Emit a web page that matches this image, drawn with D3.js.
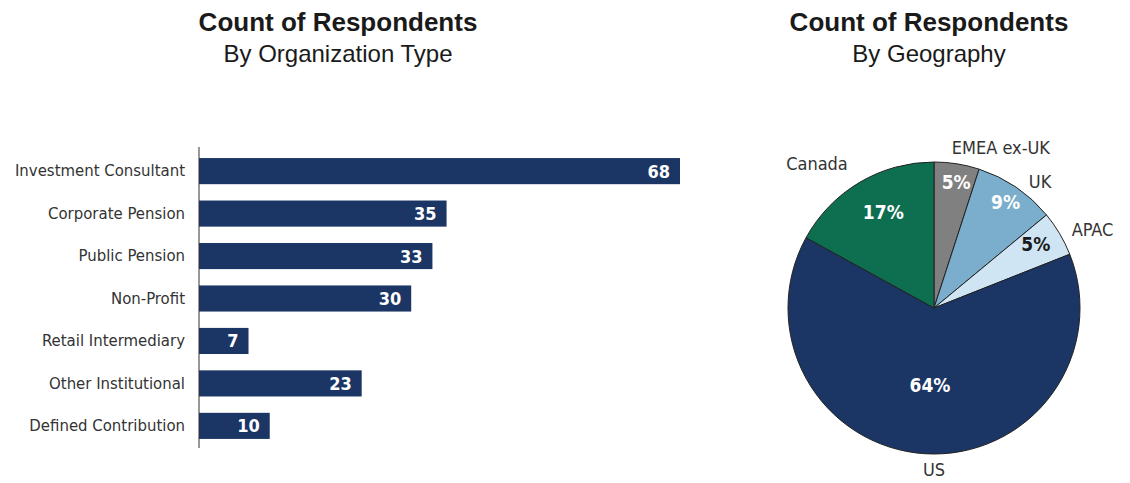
<!DOCTYPE html>
<html>
  <head>
    <meta charset="utf-8">
    <title>Count of Respondents</title>
    <script src="https://cdn.jsdelivr.net/npm/d3@7"></script>
    <style>
      body { margin: 0; background: #fff; }
      svg { display: block; }
      .title { font-family: "Liberation Sans", Arial, sans-serif; font-weight: bold; font-size: 26px; fill: #1a1a1a; }
      .subtitle { font-family: "Liberation Sans", Arial, sans-serif; font-size: 24px; fill: #1a1a1a; }
      .narrow { font-family: "Liberation Sans Narrow", "DejaVu Sans Condensed", sans-serif; }
    </style>
  </head>
  <body>
    <svg id="chart" width="1130" height="483"></svg>
    <script>
      // bar data
      var orgTypes = ["Investment Consultant", "Corporate Pension", "Public Pension", "Non-Profit",
        "Retail Intermediary", "Other Institutional", "Defined Contribution"];
      var orgCounts = [68, 35, 33, 30, 7, 23, 10];

      // pie data (clockwise from 12 o'clock)
      var regions = ["EMEA ex-UK", "UK", "APAC", "US", "Canada"];
      var regionShares = [5, 9, 5, 64, 17];

      var pieColors = ["#808080", "#7aaecc", "#cfe5f3", "#1b3564", "#0e6e50"];
      var pctColors = ["#fff", "#fff", "#1a1a1a", "#fff", "#fff"];
      // label placement: [angle in degrees, distance from centre]
      var pctPlace = [[10, 128], [34, 128], [58, 120], [183, 77], [332, 108]];
      var namePlace = [[22.6, 174], [40, 165], [63.6, 177], [180, 162], [321, 186]];

      var svg = d3.select("#chart");

      // titles
      function titles(cx, sub) {
        svg.append("text").attr("class", "title")
          .attr("x", cx).attr("y", 31).attr("text-anchor", "middle")
          .text("Count of Respondents");
        svg.append("text").attr("class", "subtitle")
          .attr("x", cx).attr("y", 62).attr("text-anchor", "middle")
          .text(sub);
      }
      titles(338, "By Organization Type");
      titles(929, "By Geography");

      // bar chart
      var x = d3.scaleLinear().domain([0, 68]).range([199, 680]);
      var y = d3.scaleBand().domain(orgTypes).range([150, 447]).paddingInner(0.385).paddingOuter(0.19);

      var bars = svg.append("g");
      bars.selectAll("rect")
        .data(orgCounts)
        .enter().append("rect")
          .attr("x", x(0))
          .attr("y", function(d, i) { return y(orgTypes[i]); })
          .attr("width", function(d) { return x(d) - x(0); })
          .attr("height", y.bandwidth())
          .style("fill", "#1b3564");
      bars.selectAll(".val")
        .data(orgCounts)
        .enter().append("text")
          .attr("class", "val narrow")
          .attr("x", function(d) { return x(d) - 10; })
          .attr("y", function(d, i) { return y(orgTypes[i]) + y.bandwidth() / 2; })
          .attr("dy", "0.36em")
          .attr("text-anchor", "end")
          .style("font-size", "18px")
          .style("font-weight", "bold")
          .style("fill", "#fff")
          .text(function(d) { return d; });

      var yAxis = svg.append("g")
        .attr("transform", "translate(199,0)")
        .call(d3.axisLeft(y).tickSize(0).tickPadding(14));
      yAxis.select(".domain").attr("d", "M0,147V448").attr("stroke", "#333");
      yAxis.selectAll("text")
        .attr("class", "narrow")
        .style("font-size", "16.6px")
        .style("fill", "#333")
        .attr("font-family", null);

      // pie chart
      var cx = 934, cy = 308, r = 146;
      var pie = d3.pie().sort(null).value(function(d) { return d; });
      var arc = d3.arc().innerRadius(0).outerRadius(r);
      var slices = pie(regionShares);
      var g = svg.append("g").attr("transform", "translate(" + cx + "," + cy + ")");
      g.selectAll("path")
        .data(slices)
        .enter().append("path")
          .attr("d", arc)
          .style("fill", function(d, i) { return pieColors[i]; })
          .style("stroke", "#222")
          .style("stroke-width", 1);

      function polar(p) {
        var a = p[0] * Math.PI / 180;
        return [Math.sin(a) * p[1], -Math.cos(a) * p[1]];
      }
      g.selectAll(".pct")
        .data(slices)
        .enter().append("text")
          .attr("class", "pct narrow")
          .attr("x", function(d, i) { return polar(pctPlace[i])[0]; })
          .attr("y", function(d, i) { return polar(pctPlace[i])[1]; })
          .attr("dy", "0.36em")
          .attr("text-anchor", "middle")
          .style("font-size", "19px")
          .style("font-weight", "bold")
          .style("fill", function(d, i) { return pctColors[i]; })
          .text(function(d) { return d.data + "%"; });
      g.selectAll(".name")
        .data(regions)
        .enter().append("text")
          .attr("class", "name narrow")
          .attr("x", function(d, i) { return polar(namePlace[i])[0]; })
          .attr("y", function(d, i) { return polar(namePlace[i])[1]; })
          .attr("dy", "0.36em")
          .attr("text-anchor", "middle")
          .style("font-size", "18px")
          .style("fill", "#333")
          .text(function(d) { return d; });
    </script>
  </body>
</html>
